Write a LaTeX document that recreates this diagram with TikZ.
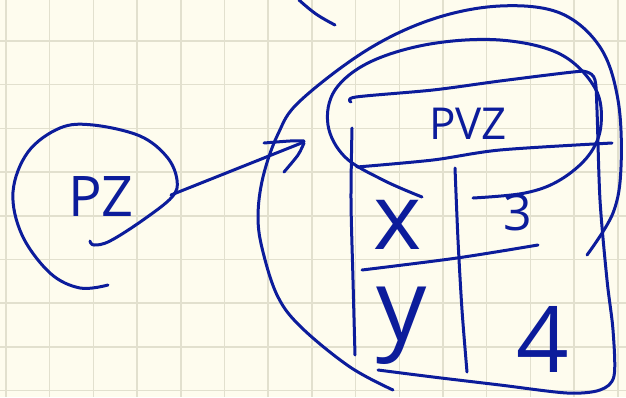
\documentclass[tikz,border=0pt]{standalone}
\usepackage{fontspec}
\setmainfont{Open Sans}
\definecolor{paper}{HTML}{FEFCEE}
\definecolor{gridc}{HTML}{E2E0CE}
\definecolor{ink}{RGB}{12,28,155}
\tikzset{
  pen/.style={draw=ink,line width=3pt,line cap=round,line join=round},
  handtext/.style={text=ink,inner sep=0pt,font=\fontsize{#1}{#1}\selectfont},
}
\begin{document}
\begin{tikzpicture}[x=1pt,y=-1pt]
\fill[paper] (0,0) rectangle (626,397);
\useasboundingbox (0,0) rectangle (626,397);
% grid
\foreach \i in {0,...,14} {\draw[gridc,line width=1.5pt] ({6+43.7*\i},0) -- ({6+43.7*\i},397);}
\foreach \j in {0,...,8} {\draw[gridc,line width=1.5pt] (0,{41+43.7*\j}) -- (626,{41+43.7*\j});}

% small arc top
\draw[pen] plot[smooth,tension=0.7] coordinates {(299,0) (316,14) (335,25)};

% circle around PZ
\draw[pen] plot[smooth,tension=0.6] coordinates {(108,285) (80,288) (50,273) (22,235) (13,192) (28,152) (60,128) (93,125) (140,136) (167,157) (177,180) (172,197) (143,220) (110,241) (94,245) (90,241)};
\node[handtext=56] (pz) at (101,197) {PZ};

% arrow
\coordinate (astart) at (171,195);
\coordinate (atip) at (304,142);
\draw[pen] (astart) -- (atip);
\draw[pen] plot[smooth,tension=0.5] coordinates {(264,143) (290,141) (304,141)};
\draw[pen] plot[smooth,tension=0.5] coordinates {(304,143) (298,155) (284,172)};

% big outer loop
\draw[pen] plot[smooth,tension=0.6] coordinates {(393,390) (350,367) (302,328) (278,297) (263,252) (258,217) (263,177) (278,134) (300,101) (367,50) (433,19) (500,6) (560,13) (600,47) (618,100) (621,167) (613,213) (587,255)};

% inner loop around header
\draw[pen] plot[smooth,tension=0.6] coordinates {(422,197) (383,180) (345,157) (328,125) (335,90) (370,62) (430,44) (500,40) (560,54) (595,88) (601,125) (589,155) (560,180) (525,193) (473,198)};

% table outline: top, right, bottom
\draw[pen] plot[smooth,tension=0.5] coordinates {(378,370) (433,377) (500,385) (567,393) (600,390) (614,376) (613,330) (607,280) (600,200) (597,110) (595,80) (587,72) (573,72) (500,81) (433,90) (356,97) (351,102)};
% header bottom line
\draw[pen] plot[smooth,tension=0.5] coordinates {(357,167) (433,160) (500,150) (612,143)};
% left vertical
\draw[pen] plot[smooth,tension=0.5] coordinates {(352,128) (351,200) (353,280) (355,355)};
% middle vertical
\draw[pen] plot[smooth,tension=0.5] coordinates {(455,168) (458,240) (462,310) (467,372)};
% middle horizontal
\draw[pen] plot[smooth,tension=0.5] coordinates {(362,270) (457,258) (538,245)};

% texts
\node[handtext=44] (pvz) at (468,124) {PVZ};
\node[handtext=92] (cx) at (398,225) {x};
\node[handtext=50] (c3) at (518,213) {3};
\node[handtext=100] (cy) at (402,326) {y};
\node[handtext=92] (c4) at (543,339) {4};
\end{tikzpicture}
\end{document}
